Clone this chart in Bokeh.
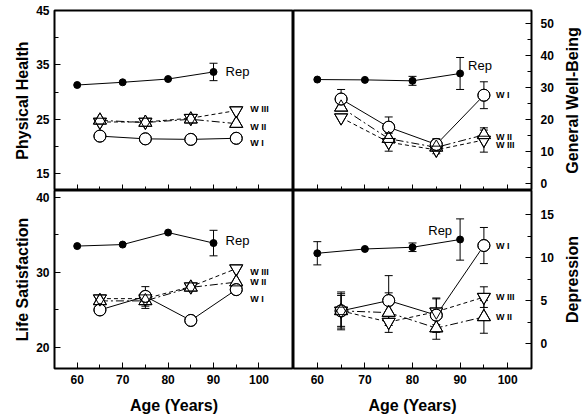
import math
from bokeh.plotting import figure
from bokeh.layouts import gridplot
from bokeh.models import Range1d, FixedTicker, ColumnDataSource
from bokeh.core.properties import value
from bokeh.embed import file_html
from bokeh.resources import INLINE

FONT = "Liberation Sans"

# ---------------- data ----------------
rep_ages = [60, 70, 80, 90]
wave_ages = [65, 75, 85, 95]
x_major = [60, 70, 80, 90, 100]
x_minor = [65, 75, 85, 95]

# Physical Health
ph_rep = [31.3, 31.8, 32.4, 33.7]
ph_rep_err = [0, 0, 0, 1.6]
ph_w1 = [21.9, 21.4, 21.3, 21.5]
ph_w1_err = [0, 0, 0, 0]
ph_w2 = [24.8, 24.4, 25.0, 24.2]
ph_w2_err = [0, 0, 0, 0]
ph_w3 = [24.5, 24.5, 25.2, 26.6]
ph_w3_err = [0, 0, 0, 0]

# General Well-Being
gw_rep = [32.5, 32.4, 32.1, 34.4]
gw_rep_err = [0, 0, 1.4, 5.0]
gw_w1 = [26.4, 17.6, 12.2, 27.6]
gw_w1_err = [3.0, 3.2, 1.8, 4.2]
gw_w2 = [23.8, 14.0, 11.3, 15.2]
gw_w2_err = [0, 0, 0, 1.5]
gw_w3 = [20.6, 12.9, 10.5, 13.6]
gw_w3_err = [0, 2.8, 1.2, 3.8]

# Life Satisfaction
ls_rep = [33.5, 33.7, 35.3, 33.9]
ls_rep_err = [0, 0, 0, 1.7]
ls_w1 = [25.0, 26.8, 23.6, 27.7]
ls_w1_err = [0, 1.3, 0, 0]
ls_w2 = [26.2, 26.2, 28.0, 28.7]
ls_w2_err = [0, 1.0, 0, 0]
ls_w3 = [26.5, 26.5, 28.1, 30.5]
ls_w3_err = [0, 0, 0, 0]

# Depression
dp_rep = [10.5, 11.0, 11.2, 12.1]
dp_rep_err = [1.35, 0, 0.5, 2.4]
dp_w1 = [3.8, 5.0, 3.3, 11.4]
dp_w1_err = [1.8, 2.9, 2.0, 2.1]
dp_w2 = [3.8, 3.6, 1.8, 3.1]
dp_w2_err = [2.0, 2.3, 1.3, 1.9]
dp_w3 = [3.8, 2.5, 3.7, 5.4]
dp_w3_err = [2.2, 0, 1.5, 1.2]


def style_axis(ax, standoff, label_standoff):
    ax.axis_line_color = None
    ax.major_tick_in = 6
    ax.major_tick_out = 0
    ax.minor_tick_in = 4
    ax.minor_tick_out = 0
    ax.major_tick_line_color = "black"
    ax.minor_tick_line_color = "black"
    ax.major_label_text_font = FONT
    ax.major_label_text_font_style = "bold"
    ax.major_label_text_font_size = "12px"
    ax.major_label_text_color = "black"
    ax.major_label_standoff = standoff
    ax.axis_label_text_font = FONT
    ax.axis_label_text_font_style = "bold"
    ax.axis_label_text_font_size = "16px"
    ax.axis_label_text_color = "black"
    ax.axis_label_standoff = label_standoff


def panel(ylabel, xr, yr, yticks, yminor, series, rep, rep_err, ylabel_loc,
          show_x, borders, size, rep_lab, wave_lab):
    left, right, top, bottom = borders
    p = figure(width=size[0], height=size[1], x_range=Range1d(*xr), y_range=Range1d(*yr),
               output_backend="svg", toolbar_location=None, y_axis_location=ylabel_loc,
               min_border_left=left, min_border_right=right,
               min_border_top=top, min_border_bottom=bottom)
    p.xgrid.visible = False
    p.ygrid.visible = False
    p.outline_line_color = "black"
    p.outline_line_width = 2
    p.outline_line_alpha = 1
    p.background_fill_color = "white"
    p.border_fill_color = "white"

    yax = p.yaxis[0]
    if ylabel_loc == "left":
        style_axis(yax, 5, 2)
        yax.axis_label = ylabel
    else:
        style_axis(yax, 9, 0)
    yax.ticker = FixedTicker(ticks=yticks, minor_ticks=yminor)

    xax = p.xaxis[0]
    style_axis(xax, 6, 10)
    xax.ticker = FixedTicker(ticks=x_major, minor_ticks=x_minor)
    if show_x:
        xax.axis_label = "Age (Years)"
    else:
        xax.major_label_text_font_size = "1px"
        xax.major_label_text_color = None
        xax.major_label_standoff = 0

    styles = {"W I": ("circle", 12, "solid"),
              "W II": ("triangle", 13, "8 3 2 3"),
              "W III": ("inverted_triangle", 13, "4 3")}
    # connecting lines
    p.line(rep_ages, rep, line_color="black", line_width=1)
    for name, vals, errs in series:
        p.line(wave_ages, vals, line_color="black", line_width=1, line_dash=styles[name][2])

    # error bars
    def bars(xs, vals, errs):
        bx = [x for x, e in zip(xs, errs) if e > 0]
        lo = [v - e for v, e in zip(vals, errs) if e > 0]
        hi = [v + e for v, e in zip(vals, errs) if e > 0]
        if bx:
            p.segment(x0=bx, y0=lo, x1=bx, y1=hi, line_color="black", line_width=1)
            p.scatter(bx, lo, marker="dash", size=8, line_color="black", line_width=1)
            p.scatter(bx, hi, marker="dash", size=8, line_color="black", line_width=1)

    bars(rep_ages, rep, rep_err)
    for name, vals, errs in series:
        bars(wave_ages, vals, errs)

    # markers: white fill pass, then outline pass
    for name, vals, errs in series:
        m, s, _ = styles[name]
        p.scatter(wave_ages, vals, marker=m, size=s, fill_color="white",
                  line_color="black", line_width=1)
    for name, vals, errs in series:
        m, s, _ = styles[name]
        p.scatter(wave_ages, vals, marker=m, size=s, fill_color=None,
                  line_color="black", line_width=1)
    p.scatter(rep_ages, rep, marker="circle", size=7, fill_color="black", line_color="black")

    # labels
    rx, ry, ralign = rep_lab
    p.text(x=[rep_ages[-1]], y=[rep[-1]], text=["Rep"], x_offset=rx, y_offset=ry,
           text_align=ralign, text_baseline="middle", text_font=value(FONT),
           text_font_size="13px", text_color="black")
    src = ColumnDataSource(dict(
        x=[wave_ages[-1]] * len(series),
        y=[vals[-1] for _, vals, _ in series],
        t=[name for name, _, _ in series],
        dx=[wave_lab[0]] * len(series),
        dy=[wave_lab[1][name] for name, _, _ in series],
    ))
    p.text(x="x", y="y", text="t", x_offset="dx", y_offset="dy", source=src,
           text_align="left", text_baseline="middle", text_font=value(FONT),
           text_font_style="bold", text_font_size="9px", text_color="black")
    return p


def side_label(text, width, height, top, bottom):
    """Narrow strip holding a right-hand axis title that reads bottom-to-top."""
    q = figure(width=width, height=height, x_range=Range1d(0, 1), y_range=Range1d(0, 1),
               output_backend="svg", toolbar_location=None,
               x_axis_location=None, y_axis_location=None,
               min_border_left=0, min_border_right=0,
               min_border_top=top, min_border_bottom=bottom)
    q.xgrid.visible = False
    q.ygrid.visible = False
    q.outline_line_color = None
    q.background_fill_color = "white"
    q.border_fill_color = "white"
    q.text(x=[0.5], y=[0.5], text=[text], angle=math.pi / 2, text_align="center",
           text_baseline="middle", text_font=value(FONT), text_font_style="bold",
           text_font_size="16px", text_color="black")
    return q


W_L, W_R, W_S = 293, 265, 27
H_T, H_B = 190, 228

tl = panel("Physical Health", (55, 107.6), (11.9, 45), [15, 25, 35, 45], [20, 30, 40],
           [("W III", ph_w3, ph_w3_err), ("W II", ph_w2, ph_w2_err), ("W I", ph_w1, ph_w1_err)],
           ph_rep, ph_rep_err, "left", False, (54, 0, 10, 0), (W_L, H_T),
           (12, 0, "left"), (14, {"W III": -2, "W II": 3, "W I": 5}))
tr = panel("General Well-Being", (55, 105), (-2.2, 54.1), [0, 10, 20, 30, 40, 50],
           [5, 15, 25, 35, 45],
           [("W III", gw_w3, gw_w3_err), ("W II", gw_w2, gw_w2_err), ("W I", gw_w1, gw_w1_err)],
           gw_rep, gw_rep_err, "right", False, (0, 27, 10, 0), (W_R, H_T),
           (8, -8, "left"), (12, {"W III": 5, "W II": 2, "W I": 0}))
bl = panel("Life Satisfaction", (55, 107.6), (17.2, 40.9), [20, 30, 40], [25, 35],
           [("W III", ls_w3, ls_w3_err), ("W II", ls_w2, ls_w2_err), ("W I", ls_w1, ls_w1_err)],
           ls_rep, ls_rep_err, "left", True, (54, 0, 0, 50), (W_L, H_B),
           (12, -3, "left"), (14, {"W III": 3, "W II": 0, "W I": 9}))
br = panel("Depression", (55, 105), (-2.9, 17.8), [0, 5, 10, 15], [2.5, 7.5, 12.5],
           [("W III", dp_w3, dp_w3_err), ("W II", dp_w2, dp_w2_err), ("W I", dp_w1, dp_w1_err)],
           dp_rep, dp_rep_err, "right", True, (0, 27, 0, 50), (W_R, H_B),
           (-8, -9, "right"), (12, {"W III": 0, "W II": 0, "W I": 0}))
st = side_label("General Well-Being", W_S, H_T, 10, 0)
sb = side_label("Depression", W_S, H_B, 0, 50)

grid = gridplot([[tl, tr, st], [bl, br, sb]], toolbar_location=None)

open("out.html", "w").write(file_html(grid, INLINE))
